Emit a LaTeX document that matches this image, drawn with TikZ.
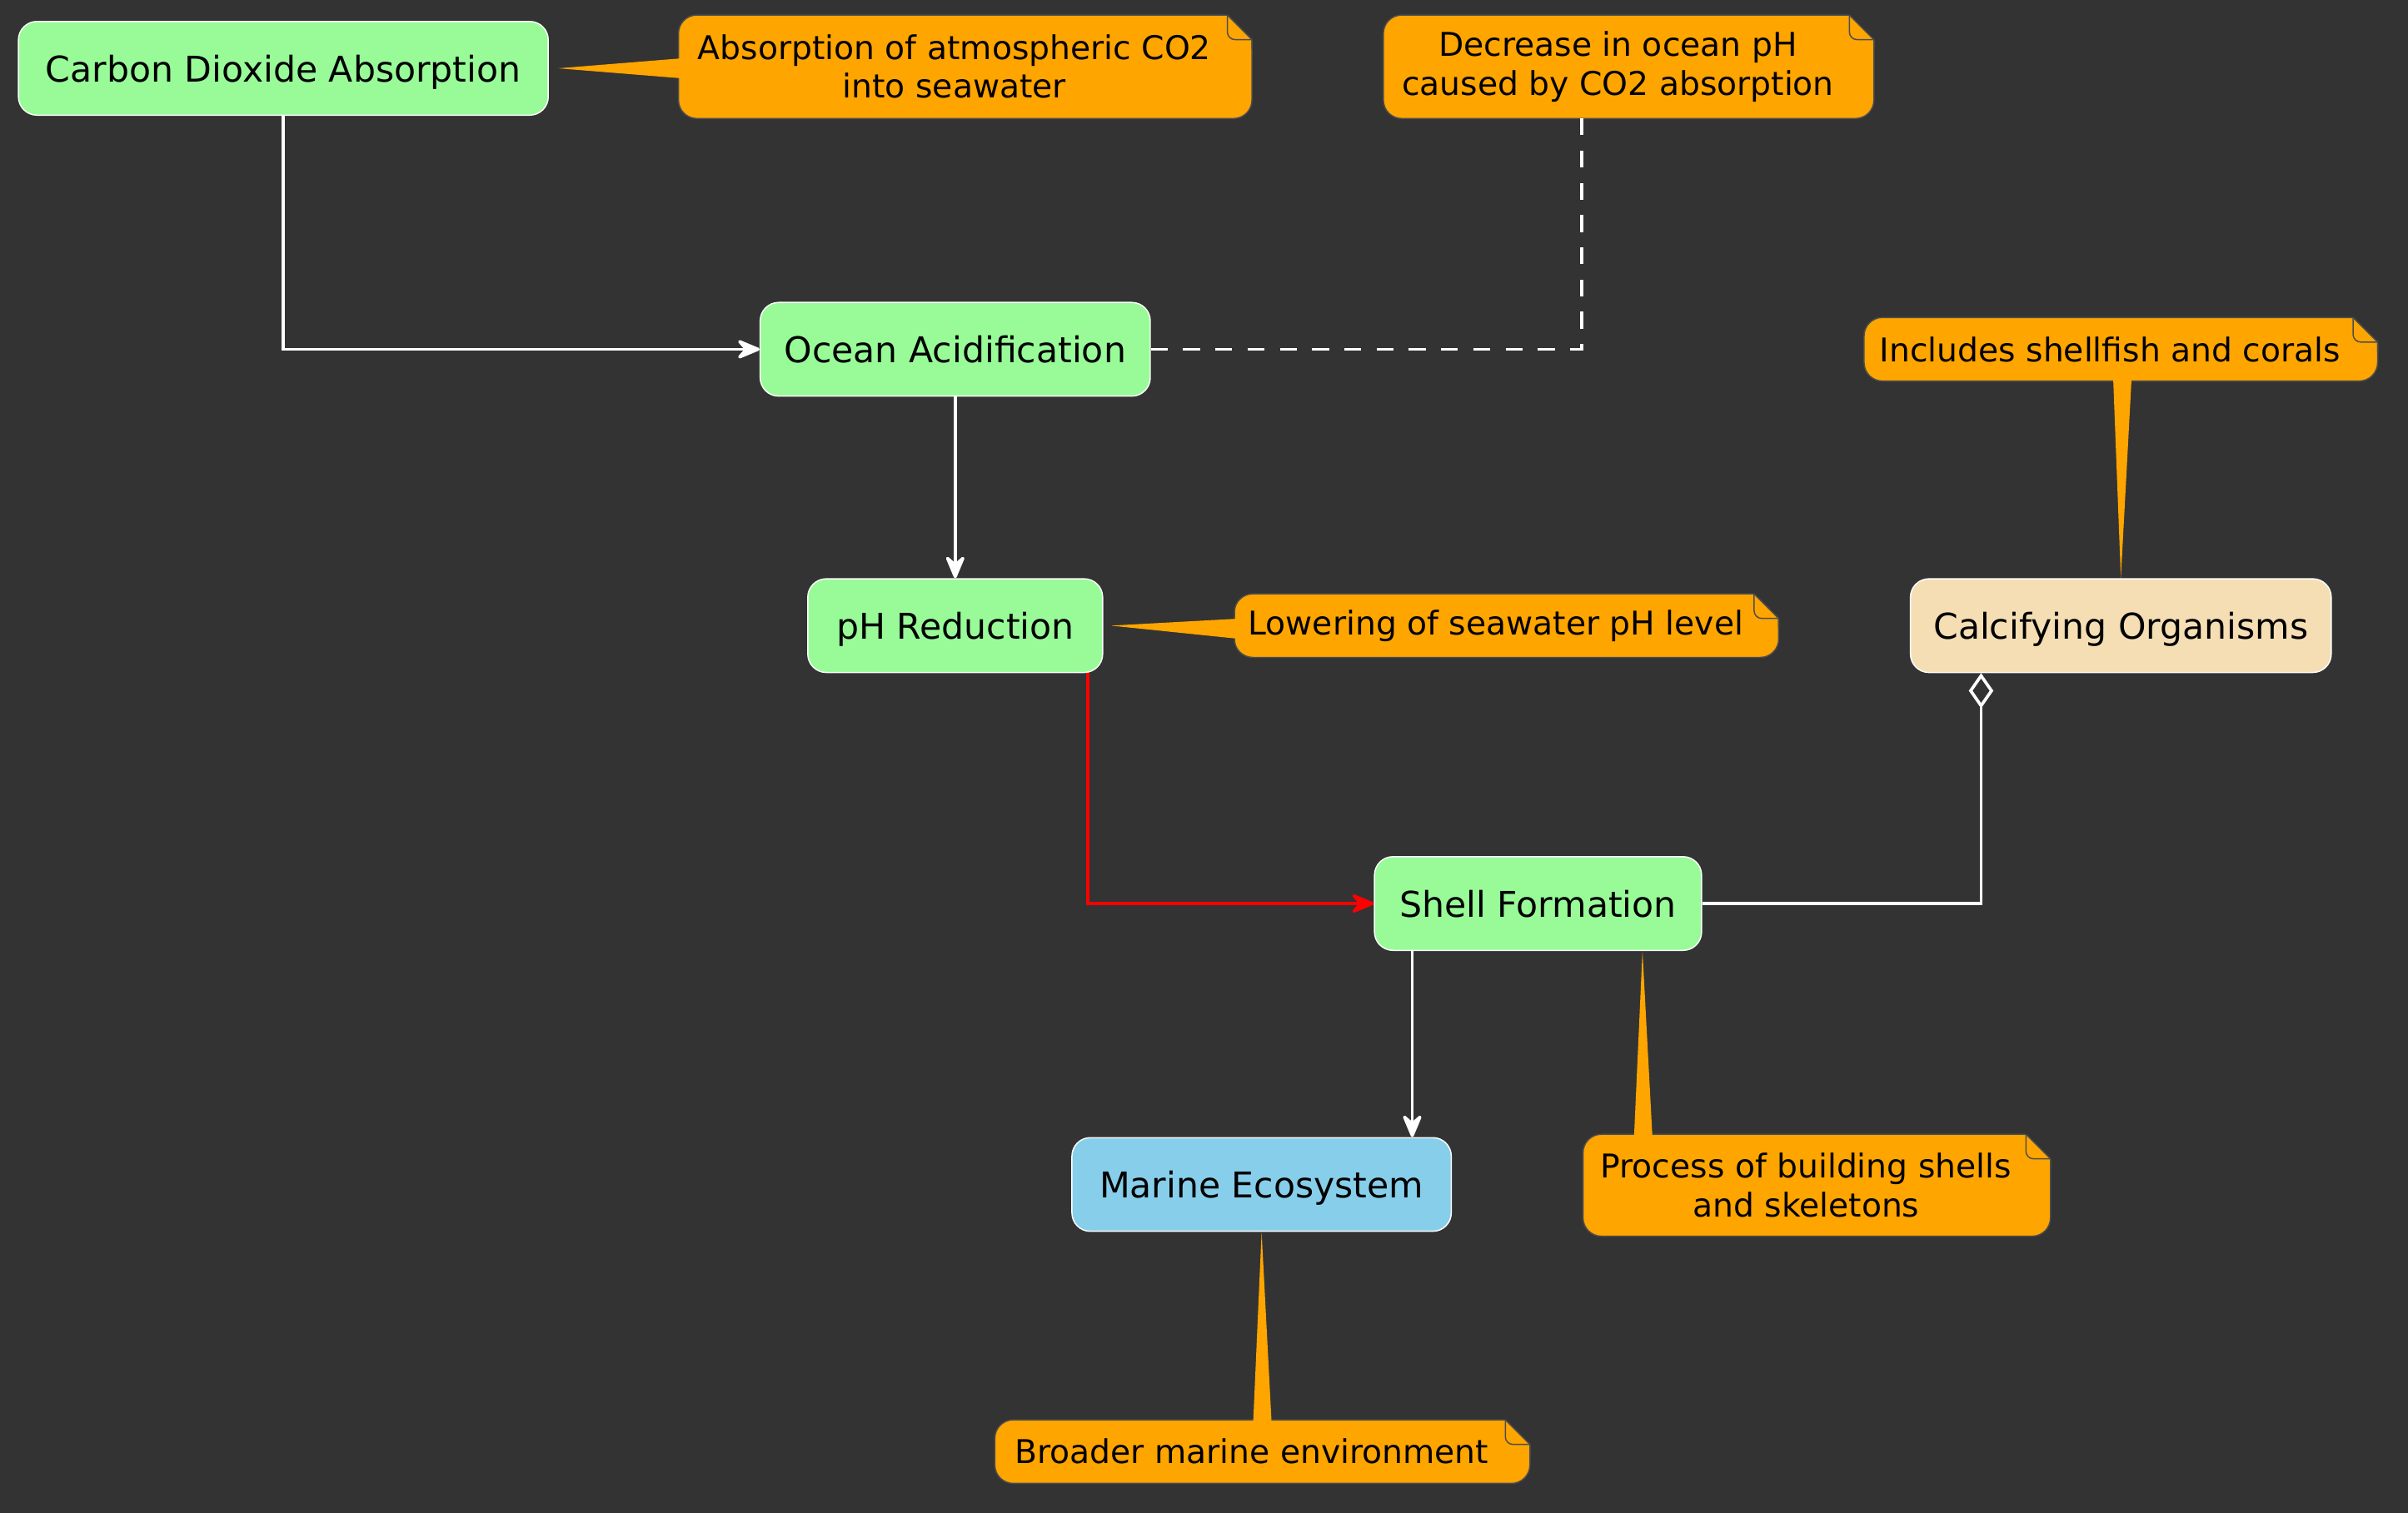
\documentclass[tikz,border=0pt]{standalone}
\usepackage{fontspec}
\setmainfont{DejaVu Sans}
\usetikzlibrary{arrows.meta,backgrounds}
\definecolor{bgdark}{HTML}{333333}
\definecolor{stepgreen}{HTML}{98FB98}
\definecolor{seablue}{HTML}{87CEEB}
\definecolor{shellwheat}{HTML}{F5DEB3}
\definecolor{noteorange}{HTML}{FFA500}
\definecolor{noteline}{HTML}{4D4D4D}

\begin{document}
\begin{tikzpicture}[x=1pt, y=-1pt,
    box/.style={rectangle, rounded corners=12pt, draw=white, line width=0.8pt, minimum height=61pt, inner sep=0pt, text depth=0pt, font=\fontsize{23.1}{28}\selectfont},
    note/.style={inner sep=0pt, align=center, font=\fontsize{21.3}{25}\selectfont},
    link/.style={white, line width=2pt, -{Stealth[length=18pt, width=15pt, inset=6.5pt, round]}}]
    \useasboundingbox (0,0) rectangle (1568,985);

    \node[box, fill=stepgreen, minimum width=345pt] (co2) at (184.5,44.5) {Carbon Dioxide Absorption};
    \node[box, fill=stepgreen, minimum width=254pt] (acid) at (622,227.5) {Ocean Acidification};
    \node[box, fill=stepgreen, minimum width=192pt] (ph) at (622,407.5) {pH Reduction};
    \node[box, fill=shellwheat, minimum width=274pt] (calc) at (1381,407.5) {Calcifying Organisms};
    \node[box, fill=stepgreen, minimum width=213pt] (shell) at (1001.5,588.5) {Shell Formation};
    \node[box, fill=seablue, minimum width=247pt] (marine) at (821.5,771.5) {Marine Ecosystem};

    \node[note, minimum width=359pt, minimum height=67pt] (co2note) at (621.5,43.5) {Absorption of atmospheric CO2\\into seawater};
    \node[note, minimum width=305pt, minimum height=67pt] (acidnote) at (1053.5,43.5) {Decrease in ocean pH\\caused by CO2 absorption};
    \node[note, minimum width=340pt, minimum height=41pt] (phnote) at (974,407.5) {Lowering of seawater pH level};
    \node[note, minimum width=320pt, minimum height=41pt] (calcnote) at (1374,227.5) {Includes shellfish and corals};
    \node[note, minimum width=290pt, minimum height=66pt] (shellnote) at (1176,772) {Process of building shells\\and skeletons};
    \node[note, minimum width=334pt, minimum height=41pt] (marinenote) at (815,945.5) {Broader marine environment};

    \begin{scope}[on background layer]
        \fill[bgdark] (-3,-3) rectangle (1571,988);
        \foreach \n in {co2note,acidnote,phnote,calcnote,shellnote,marinenote} {
            \filldraw[fill=noteorange, draw=noteline, line width=0.8pt, rounded corners=12pt] (\n.south west) rectangle ([xshift=14pt]\n.north east);
            \fill[bgdark] ([xshift=-3pt,yshift=1pt]\n.north east) -- ++(18,0) -- ++(0,18) -- cycle;
            \filldraw[fill=noteorange, draw=noteline, line width=0.8pt, rounded corners=5pt] ([xshift=-2pt]\n.north east) -- ++(0,16) -- ++(16,0);
            \draw[noteline, line width=0.8pt] ([xshift=-2pt]\n.north east) -- ++(16,16) -- ++(0,6);
        }
        \fill[noteorange] ([xshift=6pt]co2.east) -- ([xshift=2pt,yshift=5.5pt]co2note.west) -- ([xshift=2pt,yshift=-7.5pt]co2note.west) -- cycle;
        \fill[noteorange] ([xshift=5pt]ph.east) -- ([xshift=2pt,yshift=4.5pt]phnote.west) -- ([xshift=2pt,yshift=-8.5pt]phnote.west) -- cycle;
        \fill[noteorange] (calc.north) -- ([xshift=2pt,yshift=2pt]calcnote.south) -- ([xshift=14pt,yshift=2pt]calcnote.south) -- cycle;
        \fill[noteorange] ([xshift=68pt]shell.south) -- ([xshift=-112pt,yshift=-2pt]shellnote.north) -- ([xshift=-100pt,yshift=-2pt]shellnote.north) -- cycle;
        \fill[noteorange] (marine.south) -- ([xshift=1pt,yshift=-2pt]marinenote.north) -- ([xshift=13pt,yshift=-2pt]marinenote.north) -- cycle;
    \end{scope}

    \draw[link] (co2.south) |- (acid.west);
    \draw[link] (acid) -- (ph);
    \draw[link, red] ([xshift=-10pt]ph.south east) |- (shell.west);
    \draw[white, line width=2pt, -{Diamond[open, length=23pt, width=16pt]}] (shell.east) -| ([xshift=-91pt]calc.south);
    \draw[link] ([xshift=25pt]shell.south west) coordinate (drop) -- (drop |- marine.north);
    \draw[white, line width=2pt, dash pattern=on 11pt off 10pt] (acid.east) -| ([xshift=-23.5pt]acidnote.south);
\end{tikzpicture}
\end{document}
